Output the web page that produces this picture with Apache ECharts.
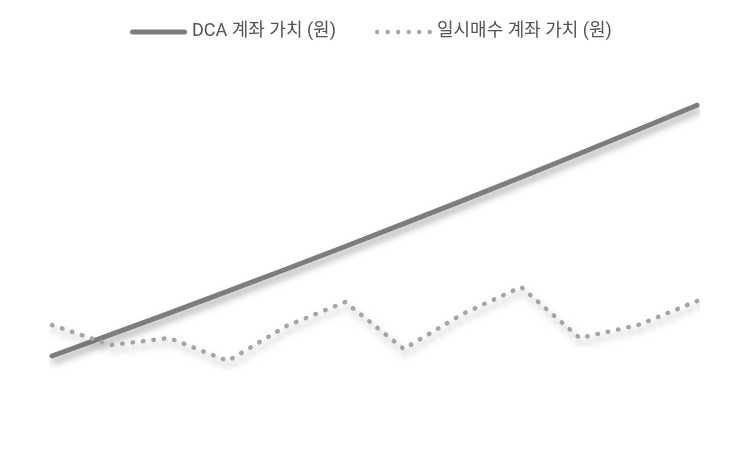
<!DOCTYPE html>
<html>
<head>
<meta charset="utf-8">
<script src="https://cdn.jsdelivr.net/npm/echarts@6/dist/echarts.min.js"></script>
<style>
html,body{margin:0;padding:0;background:#fff;}
#chart{width:750px;height:450px;}
</style>
</head>
<body>
<div id="chart"></div>
<script>
const months = ['1월','2월','3월','4월','5월','6월','7월','8월','9월','10월','11월','12월'];
const dcaValues = [540000, 753000, 969000, 1188000, 1410000, 1635000, 1863000, 2094000, 2328000, 2565000, 2805000, 3048000];
const lumpValues = [850000, 650000, 720000, 490000, 840000, 1080000, 610000, 960000, 1230000, 720000, 850000, 1090000];
const seriesNames = ['DCA 계좌 가치 (원)', '일시매수 계좌 가치 (원)'];

const solidIcon = 'path://M2.5,0 L54.5,0 A2.5,2.5 0 0 1 54.5,5 L2.5,5 A2.5,2.5 0 0 1 2.5,0 Z';
let dots = '';
for (let k = 0; k < 6; k++) {
  const cx = 2.2 + k * 10.5;
  dots += 'M' + (cx - 2.2) + ',2.2 A2.2,2.2 0 1 0 ' + (cx + 2.2) + ',2.2 A2.2,2.2 0 1 0 ' + (cx - 2.2) + ',2.2 Z ';
}
const dotIcon = 'path://' + dots;

const chart = echarts.init(document.getElementById('chart'));
const shadow = {shadowColor:'rgba(0,0,0,0.35)', shadowBlur:7, shadowOffsetX:2, shadowOffsetY:5};
const legendText = {fontSize:18, color:'#555'};
chart.setOption({
  animation:false,
  textStyle:{fontFamily:"Roboto, 'Noto Sans CJK KR', sans-serif"},
  legend:[
    {left:125, top:18, itemWidth:57, itemHeight:5, itemGap:5, textStyle:legendText,
     data:[{name:seriesNames[0], icon:solidIcon, itemStyle:{color:'#7d7d7d'}}]},
    {left:370, top:18, itemWidth:57, itemHeight:4.4, itemGap:5, textStyle:legendText,
     data:[{name:seriesNames[1], icon:dotIcon, itemStyle:{color:'#a5a5a5'}}]}
  ],
  grid:{left:52, right:53, top:60, bottom:40},
  xAxis:{type:'category', data:months, boundaryGap:false, show:false},
  yAxis:{type:'value', min:0, max:3500000, show:false, splitLine:{show:false}},
  series:[
    {name:seriesNames[0], type:'line', data:dcaValues, symbol:'none',
     itemStyle:{color:'#7d7d7d'},
     lineStyle:Object.assign({color:'#7d7d7d', width:5, cap:'round'}, shadow)},
    {name:seriesNames[1], type:'line', data:lumpValues, symbol:'none',
     itemStyle:{color:'#a5a5a5'},
     lineStyle:Object.assign({color:'#a5a5a5', width:4.5, type:[0.5,10], cap:'round'}, shadow)}
  ]
});
</script>
</body>
</html>
